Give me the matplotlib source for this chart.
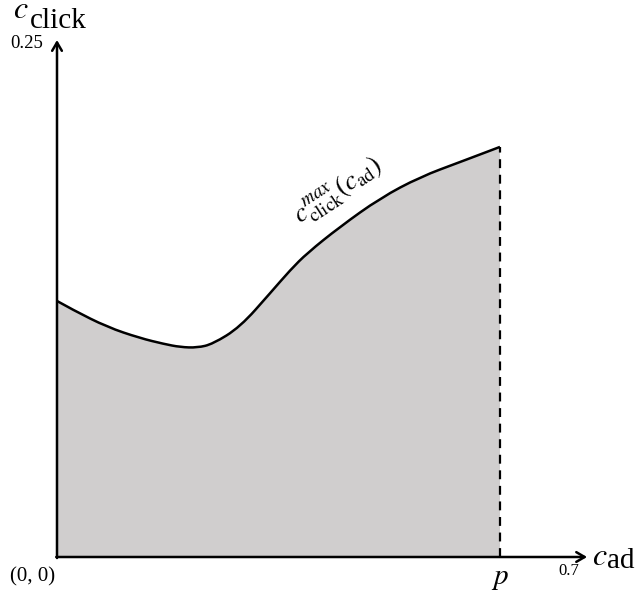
import matplotlib.pyplot as plt
from matplotlib.path import Path
from matplotlib.patches import PathPatch

plt.rcParams['mathtext.fontset'] = 'stix'

# Upper boundary of the feasible region, c_click^max(c_ad)
c_ad = [0.0, 0.022, 0.068, 0.112, 0.145, 0.167, 0.190, 0.211, 0.248, 0.289,
        0.316, 0.339, 0.383, 0.438, 0.492, 0.546, 0.600]
c_click_max = [0.1238, 0.1194, 0.1112, 0.1059, 0.1030, 0.1015, 0.1012, 0.1030,
               0.1112, 0.1277, 0.1388, 0.1470, 0.1596, 0.1736, 0.1838, 0.1910, 0.1983]

p = 0.6
x_max = 0.7
y_max = 0.25

fill_color = '#d0cece'
serif = 'Liberation Serif'


def smooth_path(xs, ys):
    # quadratic spline through the midpoints of the given points
    pts = list(zip(xs, ys))
    verts = [pts[0]]
    codes = [Path.MOVETO]
    for i in range(1, len(pts) - 1):
        if i < len(pts) - 2:
            end = ((pts[i][0] + pts[i + 1][0]) / 2, (pts[i][1] + pts[i + 1][1]) / 2)
        else:
            end = pts[-1]
        verts += [pts[i], end]
        codes += [Path.CURVE3, Path.CURVE3]
    return verts, codes


fig = plt.figure(figsize=(6.38, 5.97), dpi=100)
ax = fig.add_axes([0, 0, 1, 1])
ax.set_xlim(-57 / 738.3, (638 - 57) / 738.3)
ax.set_ylim(-(597 - 557) / 2068, 557 / 2068)
ax.axis('off')

verts, codes = smooth_path(c_ad, c_click_max)

# Shaded region under the curve
fill_verts = verts + [(p, 0), (0, 0), verts[0]]
fill_codes = codes + [Path.LINETO, Path.LINETO, Path.CLOSEPOLY]
ax.add_patch(PathPatch(Path(fill_verts, fill_codes), facecolor=fill_color, lw=0))
ax.add_patch(PathPatch(Path(verts, codes), facecolor='none', edgecolor='black', lw=1.8))

# Right edge at c_ad = p
ax.plot([p, p], [0, c_click_max[-1]], color='black', lw=1.6, ls=(0, (4, 3)))

# Axes with arrow heads
arrow = dict(arrowstyle='->,head_length=0.6,head_width=0.35', color='black', lw=1.8,
             shrinkA=0, shrinkB=0)
ax.annotate('', xy=(0.718, 0), xytext=(-0.001, 0), arrowprops=arrow)
ax.annotate('', xy=(0, y_max), xytext=(0, -0.0005), arrowprops=arrow)

# Axis titles
ax.text(-0.0595, 0.2604, '$c$', fontsize=23, ha='left', va='baseline')
ax.text(-0.0366, 0.2560, 'click', fontsize=21, family=serif, ha='left', va='baseline')
ax.text(0.724, -0.0039, '$c$', fontsize=23, ha='left', va='baseline')
ax.text(0.745, -0.0053, 'ad', fontsize=21, family=serif, ha='left', va='baseline')

# Tick values
ax.text(-0.0406, 0.2483, '0.25', fontsize=13.5, family=serif, ha='center', va='center')
ax.text(0.6935, -0.0068, '0.7', fontsize=12, family=serif, ha='center', va='center')
ax.text(-0.0332, -0.0097, '(0, 0)', fontsize=15, family=serif, ha='center', va='center')
ax.text(p, -0.0103, '$p$', fontsize=21, ha='center', va='center')

# Curve label
ax.text(0.381, 0.1765, r'$c_{\mathrm{click}}^{max}(c_{\mathrm{ad}})$', fontsize=19.5,
        rotation=33, rotation_mode='anchor', ha='center', va='center')

fig.savefig('out.png', dpi=100)
